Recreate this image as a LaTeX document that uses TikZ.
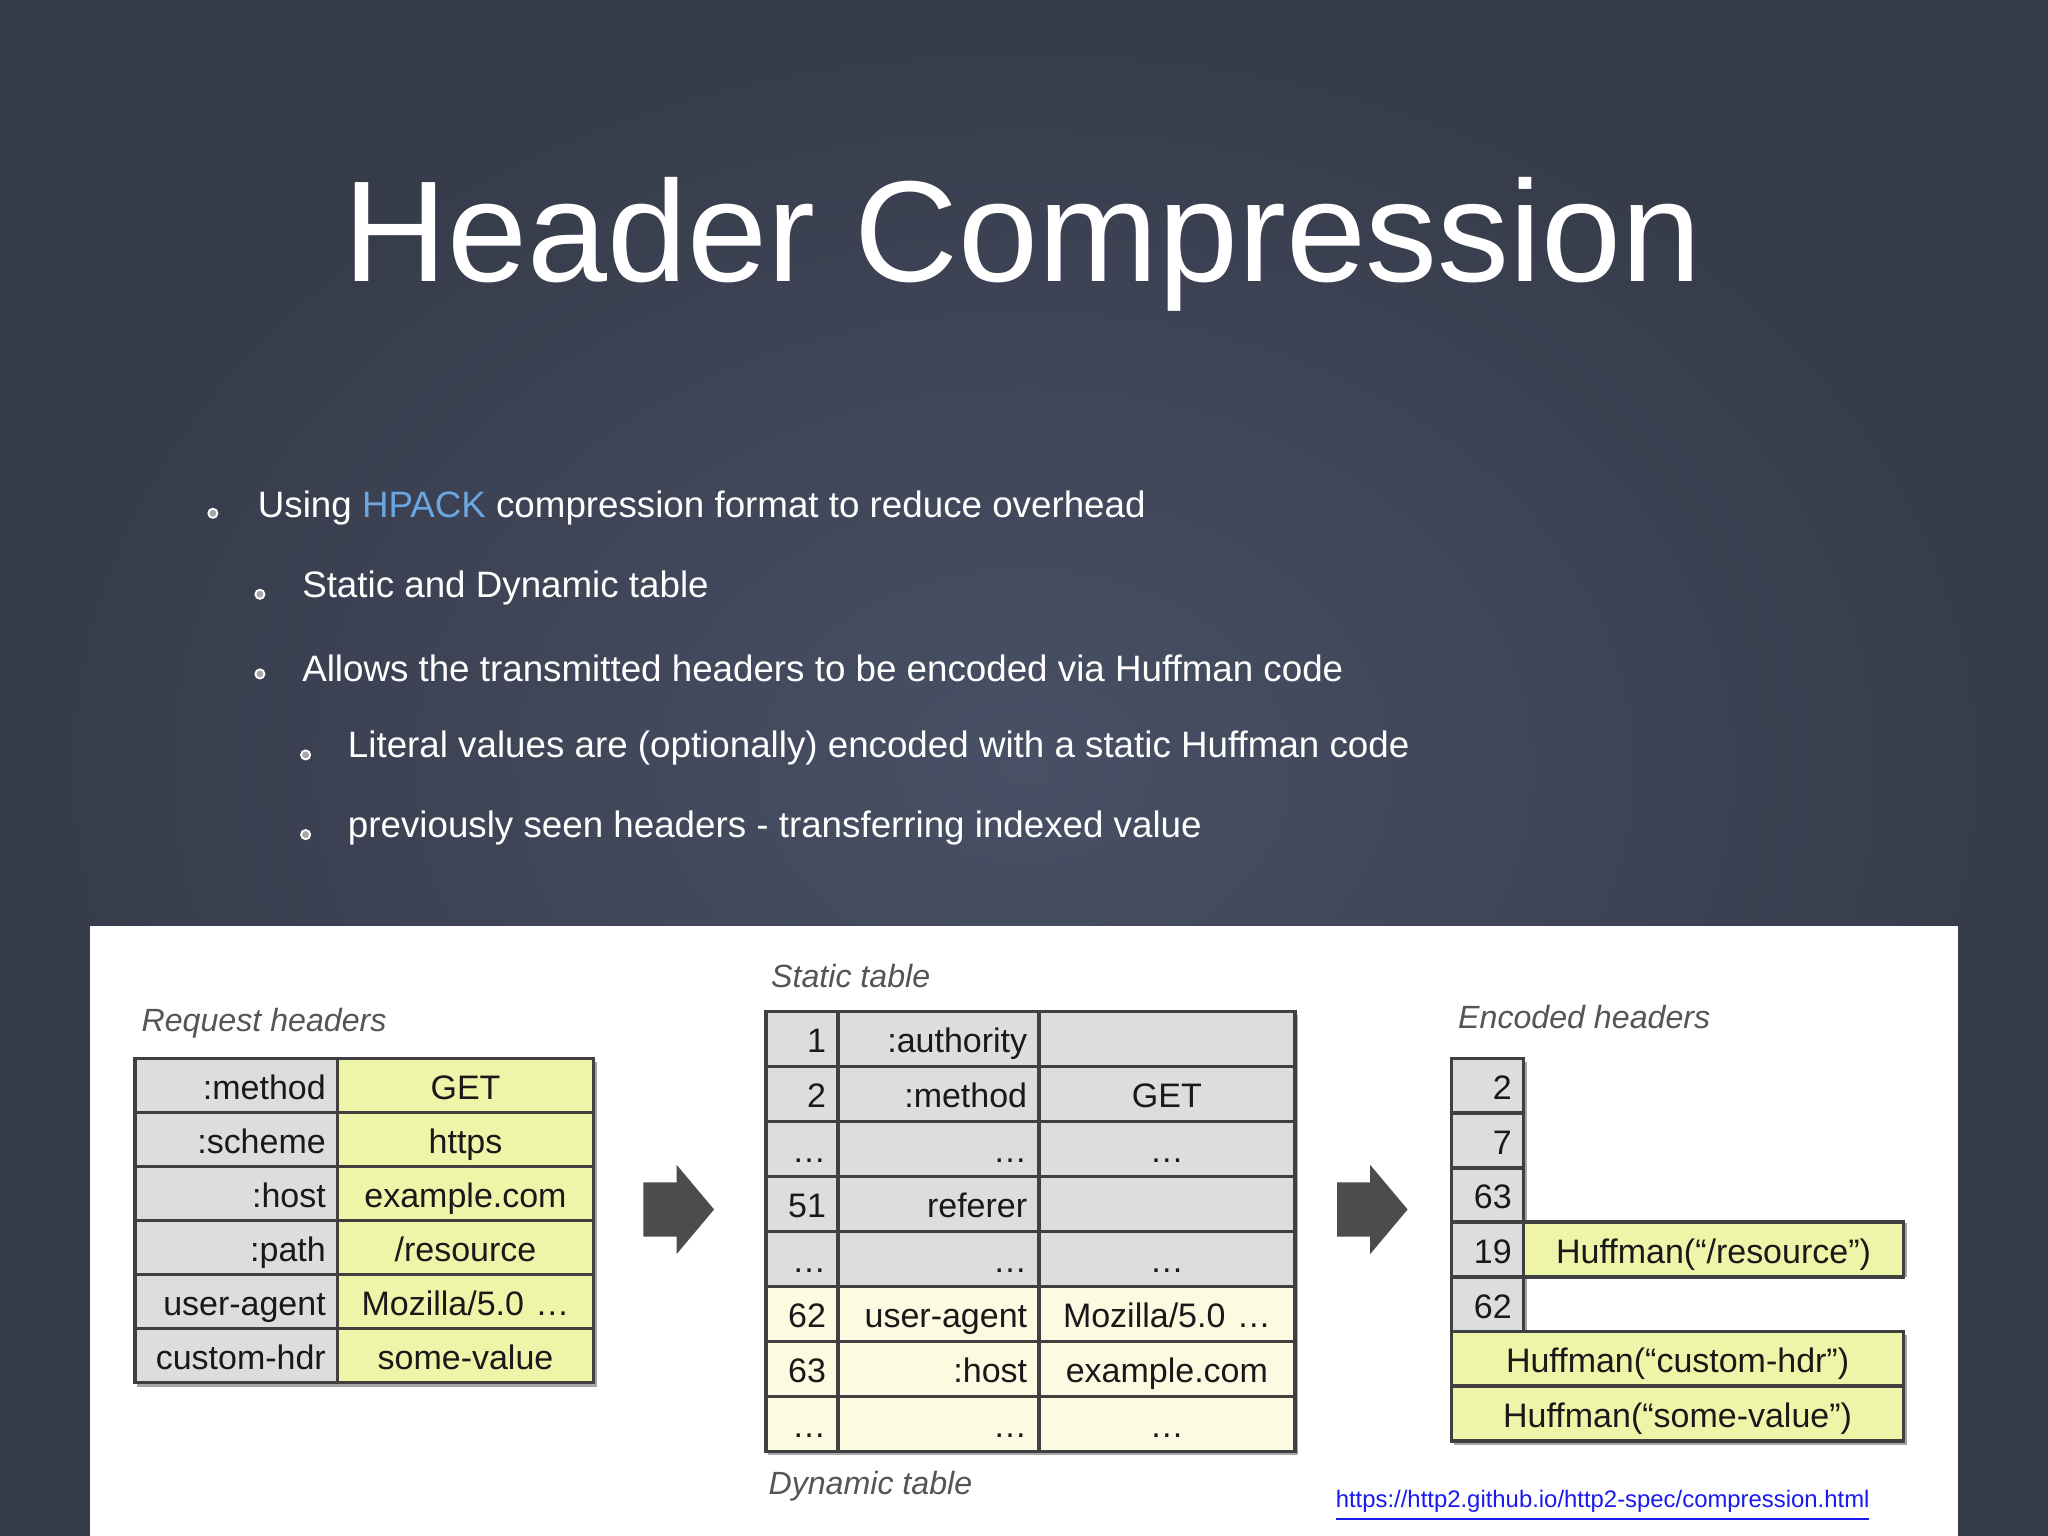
\documentclass[tikz,border=0pt]{standalone}
\usepackage{fontspec}
\setmainfont{Liberation Sans}
\usetikzlibrary{shapes.arrows}
\definecolor{bgin}{HTML}{485065}
\definecolor{bgout}{HTML}{363B4A}
\definecolor{hp}{HTML}{6AA6E0}
\definecolor{gr}{HTML}{DCDDDF}
\definecolor{ye}{HTML}{EEF5A8}
\definecolor{ly}{HTML}{FCFAE0}
\definecolor{lab}{HTML}{555555}
\definecolor{lnk}{HTML}{1A1AEE}
\newcommand\cellbox[8]{\node[cellst, fill=#6, minimum width={#4*0.01cm}, minimum height={#5*0.01cm}, text width={(#4-18)*0.01cm}, align=#7] (#1) at (#2,#3) {#8};}
\tikzset{
 cellst/.style={draw=black!75, line width=0.8pt, anchor=north west, inner xsep=0.09cm, inner ysep=0.02cm, text height=1.55ex, text depth=0.4ex, font=\fontsize{7.4}{8}\selectfont, text=black!90},
 lbl/.style={anchor=west, font=\fontsize{7}{8}\selectfont\itshape, text=lab},
 blt/.style={anchor=west, text=white, font=\fontsize{8}{10}\selectfont},
 dot/.style={circle, draw=white!80, fill=gray!70, line width=0.4pt, inner sep=0pt, minimum size=0.07cm},
 bigarrow/.style={single arrow, fill=black!70, draw=none, minimum width={0.67cm}, single arrow head extend=0.135cm, single arrow tip angle=100, minimum height=0.54cm, inner xsep=0pt, inner ysep=0.2cm, text height=0pt, text depth=0pt},
 shad/.style={fill=black!35}
}
\begin{document}
\begin{tikzpicture}[x=0.01cm,y=-0.01cm]
\useasboundingbox (0,0) rectangle (1568,1176);
\shade[inner color=bgin, outer color=bgout] (0,0) rectangle (1568,1176);
\node[text=white, font=\fontsize{31.3}{38}\selectfont] (title) at (783,187) {Header Compression};
% bullets
\node[dot] (d1) at (163,393) {}; \node[blt] (b1) at (185,389) {Using \textcolor{hp}{HPACK} compression format to reduce overhead};
\node[dot] (d2) at (199,455) {}; \node[blt] (b2) at (219,450) {Static and Dynamic table};
\node[dot] (d3) at (199,516) {}; \node[blt] (b3) at (219,512) {Allows the transmitted headers to be encoded via Huffman code};
\node[dot] (d4) at (234,578) {}; \node[blt] (b4) at (254,573) {Literal values are (optionally) encoded with a static Huffman code};
\node[dot] (d5) at (234,639) {}; \node[blt] (b5) at (254,634) {previously seen headers - transferring indexed value};
% panel
\fill[white] (69,709) rectangle (1499,1176);
% Request headers
\node[lbl] (lreq) at (96,783) {Request headers};
\fill[shad] (105,813) rectangle (457,1062);
\foreach \i/\a/\b in {0/:method/GET,1/:scheme/https,2/:host/example.com,3/:path/{/resource},4/user-agent/{Mozilla/5.0 \dots},5/custom-hdr/some-value}{
 \pgfmathsetmacro\yy{809+41.33*\i}
 \cellbox{ra\i}{102}{\yy}{155}{41.33}{gr}{right}{\a}
 \cellbox{rb\i}{257}{\yy}{196}{41.33}{ye}{center}{\b}
}
\node[bigarrow] (ar1) at (511,926) {};
% Static table
\node[lbl] (lst) at (578,747) {Static table};
\node[lbl] (ldy) at (576,1138) {Dynamic table};
\fill[shad] (588,777) rectangle (994,1114);
\foreach \i/\a/\b/\c/\f in {0/1/:authority/{}/gr,1/2/:method/GET/gr,2/\dots/\dots/\dots/gr,3/51/referer/{}/gr,4/\dots/\dots/\dots/gr,5/62/user-agent/{Mozilla/5.0 \dots}/ly,6/63/:host/example.com/ly,7/\dots/\dots/\dots/ly}{
 \pgfmathsetmacro\yy{773+42.1*\i}
 \cellbox{sa\i}{585}{\yy}{55}{42.1}{\f}{right}{\a}
 \cellbox{sb\i}{640}{\yy}{154}{42.1}{\f}{right}{\b}
 \cellbox{sc\i}{794}{\yy}{196}{42.1}{\f}{center}{\c}
}
\node[bigarrow] (ar2) at (1042,926) {};
% Encoded
\node[lbl] (lenc) at (1104,779) {Encoded headers};
\fill[shad] (1113,813) rectangle (1169,1022);
\fill[shad] (1169,936) rectangle (1460,978);
\fill[shad] (1113,1022) rectangle (1460,1106);
\foreach \i/\a in {0/2,1/7,2/63,3/19,4/62}{
 \pgfmathsetmacro\yy{809+41.8*\i}
 \cellbox{ea\i}{1110}{\yy}{55}{41.8}{gr}{right}{\a}
}
\cellbox{eb}{1165}{934.4}{291}{41.8}{ye}{center}{Huffman(“/resource”)}
\cellbox{ec}{1110}{1018}{346}{42}{ye}{center}{Huffman(“custom-hdr”)}
\cellbox{ed}{1110}{1060}{346}{42}{ye}{center}{Huffman(“some-value”)}
\node[anchor=west, text=lnk, font=\fontsize{5.2}{6}\selectfont, inner sep=0pt] (link) at (1022,1153) {\underline{https://http2.github.io/http2-spec/compression.html}};
\end{tikzpicture}
\end{document}
